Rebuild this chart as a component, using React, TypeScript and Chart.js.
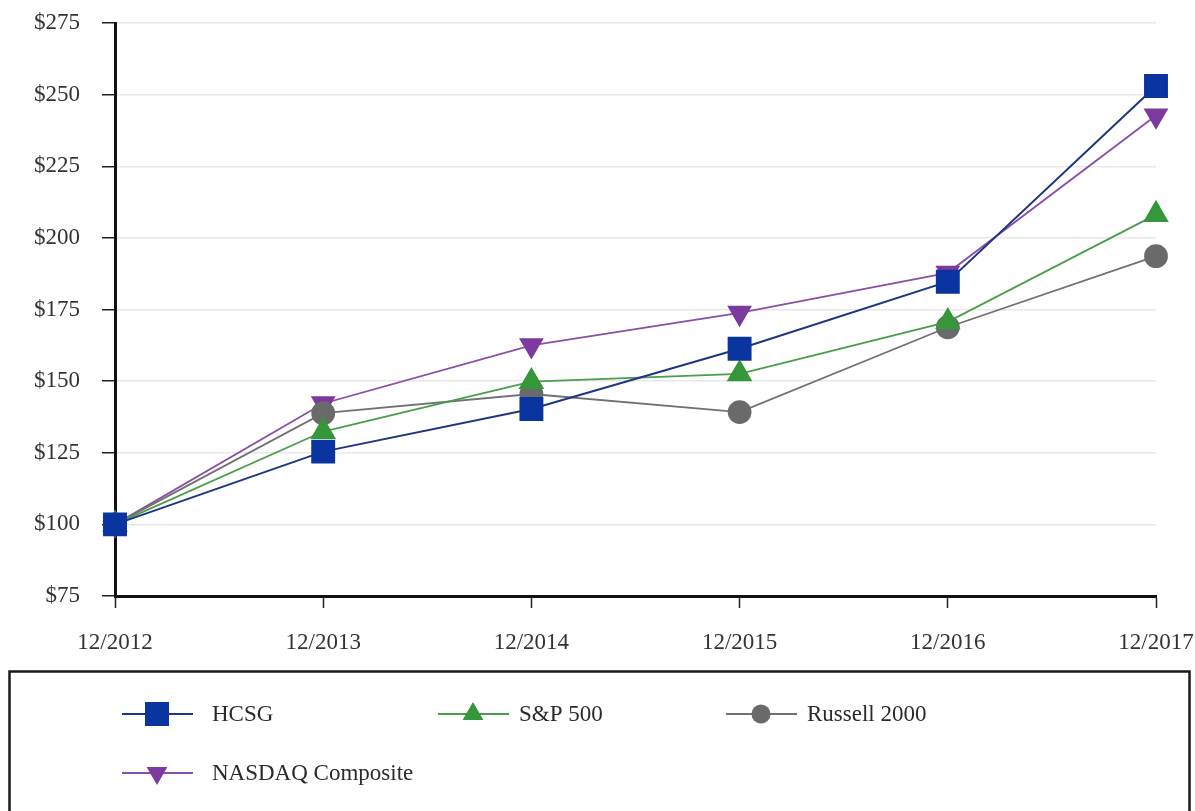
import React, { useEffect, useRef } from "react";
import { Chart, registerables } from "chart.js";

Chart.register(...registerables);

const categories = ["12/2012", "12/2013", "12/2014", "12/2015", "12/2016", "12/2017"];
const hcsg = [100, 125.4, 140.3, 161.3, 184.7, 253.0];
const sp500 = [100, 132.4, 149.8, 152.5, 170.7, 208.1];
const russell = [100, 138.8, 145.5, 139.2, 168.8, 193.6];
const nasdaq = [100, 142.2, 162.5, 173.8, 187.8, 242.7];
const seriesNames = ["HCSG", "S&P 500", "Russell 2000", "NASDAQ Composite"];
const yTicks = [75, 100, 125, 150, 175, 200, 225, 250, 275];

const FONT = "'Liberation Serif', 'DejaVu Serif', serif";

function drawMarker(ctx: CanvasRenderingContext2D, style: string, r: number, rotDeg: number, x: number, y: number) {
  ctx.beginPath();
  if (style === "rect") {
    const s = Math.SQRT1_2 * r;
    ctx.rect(x - s, y - s, 2 * s, 2 * s);
  } else if (style === "circle") {
    ctx.arc(x, y, r, 0, Math.PI * 2);
  } else if (style === "triangle") {
    let rad = (rotDeg * Math.PI) / 180;
    ctx.moveTo(x + Math.sin(rad) * r, y - Math.cos(rad) * r);
    rad += (2 * Math.PI) / 3;
    ctx.lineTo(x + Math.sin(rad) * r, y - Math.cos(rad) * r);
    rad += (2 * Math.PI) / 3;
    ctx.lineTo(x + Math.sin(rad) * r, y - Math.cos(rad) * r);
    ctx.closePath();
  }
  ctx.fill();
}

const legendPlugin = {
  id: "boxLegend",
  afterDraw(chart: any) {
    const ctx = chart.ctx;
    ctx.save();
    ctx.strokeStyle = "#1a1a1a";
    ctx.lineWidth = 2.5;
    ctx.strokeRect(9.5, 671.5, 1180, 160);
    const slots = [
      { x: 122, y: 714, tx: 212 },
      { x: 438, y: 714, tx: 519 },
      { x: 726, y: 714, tx: 807 },
      { x: 122, y: 773, tx: 212 },
    ];
    const sizes = [17, 12, 9.5, 12];
    const ordered = [...chart.data.datasets].sort((a: any, b: any) => a.legendIndex - b.legendIndex);
    ordered.forEach((ds: any, i: number) => {
      const s = slots[i];
      ctx.strokeStyle = ds.borderColor;
      ctx.lineWidth = 2.2;
      ctx.beginPath();
      ctx.moveTo(s.x, s.y);
      ctx.lineTo(s.x + 71, s.y);
      ctx.stroke();
      ctx.fillStyle = ds.pointBackgroundColor;
      drawMarker(ctx, ds.pointStyle, sizes[i], ds.pointRotation || 0, s.x + 35, s.y);
      ctx.fillStyle = "#2a2a2a";
      ctx.font = `23px ${FONT}`;
      ctx.textBaseline = "middle";
      ctx.textAlign = "left";
      ctx.fillText(ds.label, s.tx, s.y + 1);
    });
    ctx.restore();
  },
};

export default function App() {
  const ref = useRef<HTMLCanvasElement>(null);
  useEffect(() => {
    document.body.style.margin = "0";
    const chart = new Chart(ref.current!, {
      type: "line",
      data: {
        labels: categories,
        datasets: [
          {
            label: seriesNames[0],
            legendIndex: 0,
            data: hcsg,
            borderColor: "#1e3584",
            backgroundColor: "#0a34a0",
            pointBackgroundColor: "#0a34a0",
            pointBorderColor: "#0a34a0",
            pointStyle: "rect",
            pointRadius: 15.5,
            borderWidth: 2,
            order: 1,
          } as any,
          {
            label: seriesNames[1],
            legendIndex: 1,
            data: sp500,
            borderColor: "#4a9e4a",
            backgroundColor: "#36963a",
            pointBackgroundColor: "#36963a",
            pointBorderColor: "#36963a",
            pointStyle: "triangle",
            pointRadius: 13,
            borderWidth: 1.8,
            order: 2,
          } as any,
          {
            label: seriesNames[2],
            legendIndex: 2,
            data: russell,
            borderColor: "#717171",
            backgroundColor: "#6a6a6a",
            pointBackgroundColor: "#6a6a6a",
            pointBorderColor: "#6a6a6a",
            pointStyle: "circle",
            pointRadius: 11,
            borderWidth: 1.8,
            order: 3,
          } as any,
          {
            label: seriesNames[3],
            legendIndex: 3,
            data: nasdaq,
            borderColor: "#8a4fa8",
            backgroundColor: "#7d3a9e",
            pointBackgroundColor: "#7d3a9e",
            pointBorderColor: "#7d3a9e",
            pointStyle: "triangle",
            pointRotation: 180,
            pointRadius: 12.5,
            borderWidth: 1.8,
            order: 4,
          } as any,
        ],
      },
      options: {
        animation: false,
        responsive: false,
        devicePixelRatio: 1,
        layout: { padding: { left: 0, top: 23, right: 39, bottom: 0 } },
        plugins: { legend: { display: false }, tooltip: { enabled: false } },
        scales: {
          x: {
            type: "category",
            offset: false,
            afterFit: (s: any) => {
              s.height = 215;
              s.paddingLeft = 0;
              s.paddingRight = 0;
            },
            grid: {
              drawOnChartArea: false,
              tickLength: 12,
              tickColor: "#222",
              tickWidth: 1.5,
            },
            border: { color: "#111", width: 3 },
            ticks: {
              color: "#333",
              font: { family: FONT, size: 23 },
              padding: 21,
              maxRotation: 0,
              autoSkip: false,
            },
          },
          y: {
            min: 75,
            max: 275,
            afterFit: (s: any) => {
              s.width = 115;
              s.paddingTop = 0;
              s.paddingBottom = 0;
            },
            afterBuildTicks: (s: any) => {
              s.ticks = yTicks.map((v) => ({ value: v }));
            },
            grid: {
              color: "#e8e8e8",
              lineWidth: 1.5,
              tickLength: 13,
              tickColor: "#222",
              tickWidth: 1.5,
            },
            border: { color: "#111", width: 3 },
            ticks: {
              color: "#333",
              font: { family: FONT, size: 23 },
              padding: 22,
              callback: (v: any) => "$" + v,
            },
          },
        },
      },
      plugins: [legendPlugin],
    } as any);
    return () => chart.destroy();
  }, []);
  return <canvas ref={ref} width={1195} height={811} style={{ display: "block" }} />;
}
